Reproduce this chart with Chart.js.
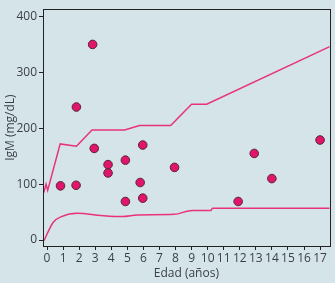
<!DOCTYPE html>
<html>
<head>
<meta charset="utf-8">
<script src="https://cdn.jsdelivr.net/npm/chart.js@4"></script>
<style>
  html, body { margin: 0; padding: 0; background: #d4e4e9; }
  canvas { display: block; }
</style>
</head>
<body>
<canvas id="igmChart" width="335" height="283"></canvas>
<script>
// datos
var edades = [0.84, 1.81, 1.83, 2.84, 2.94, 3.8, 3.8, 4.88, 4.88, 5.8, 5.96, 5.96, 7.94, 11.9, 12.9, 14.0, 17.0];
var igm = [97, 98, 238, 350, 164, 135, 120, 143, 69, 103, 75, 170, 130, 69, 155, 110, 179];

// limite superior
var supEdad = [-0.2, -0.06, 0.04, 0.82, 1.83, 2.8, 4.83, 5.76, 7.7, 9.0, 9.94, 17.6];
var supIgm = [85, 100, 89, 172, 168, 197, 197, 205, 205, 243, 243, 346];

// limite inferior
var infEdad = [-0.19, 0.39, 0.9, 1.89, 3.37, 4.7, 5.64, 7.92, 9.05, 10.2, 10.3, 17.6];
var infIgm = [-1, 32, 42, 48, 44, 42, 45, 46, 53, 53, 57, 57];

var xTicks = [0, 1, 2, 3, 4, 5, 6, 7, 8, 9, 10, 11, 12, 13, 14, 15, 16, 17];
var yTicks = [0, 100, 200, 300, 400];

function pares(xs, ys) {
    return xs.map(function(x, i) { return { x: x, y: ys[i] }; });
}

var marco = {
    id: 'marco',
    afterDatasetsDraw: function(chart) {
        var a = chart.chartArea, ctx = chart.ctx;
        ctx.save();
        ctx.strokeStyle = '#222';
        ctx.lineWidth = 1;
        ctx.strokeRect(Math.round(a.left) + 0.5, Math.round(a.top) + 0.5,
            Math.round(a.right - a.left), Math.round(a.bottom - a.top));
        ctx.restore();
    }
};

var rosa = '#e8327c';
var texto = '#3a3f48';
var fuente = { family: 'Open Sans', size: 12 };

document.addEventListener('DOMContentLoaded', function() {
    var ctx = document.getElementById('igmChart').getContext('2d');
    new Chart(ctx, {
        type: 'scatter',
        data: {
            datasets: [{
                data: pares(supEdad, supIgm),
                showLine: true,
                borderColor: rosa,
                borderWidth: 1.5,
                pointRadius: 0,
                fill: false,
                order: 2
            }, {
                data: pares(infEdad, infIgm),
                showLine: true,
                borderColor: rosa,
                borderWidth: 1.5,
                pointRadius: 0,
                cubicInterpolationMode: 'monotone',
                fill: false,
                order: 2
            }, {
                data: pares(edades, igm),
                backgroundColor: '#e0156c',
                borderColor: '#5a2435',
                borderWidth: 1,
                pointRadius: 4.3,
                order: 1
            }]
        },
        options: {
            responsive: false,
            animation: false,
            layout: { padding: { left: 0, right: 3, top: 5, bottom: 0 } },
            plugins: { legend: { display: false }, tooltip: { enabled: false } },
            scales: {
                x: {
                    type: 'linear',
                    min: -0.25,
                    max: 17.6,
                    afterBuildTicks: function(s) { s.ticks = xTicks.map(function(v) { return { value: v }; }); },
                    afterFit: function(s) { s.height = 37; },
                    grid: { drawOnChartArea: false, drawTicks: true, tickLength: 4, color: '#222' },
                    border: { display: true, color: '#222' },
                    ticks: { autoSkip: false, maxRotation: 0, padding: 1, color: texto, font: fuente },
                    title: { display: true, text: 'Edad (años)', color: texto, font: fuente, padding: { top: 2, bottom: 2 } }
                },
                y: {
                    min: -10.6,
                    max: 413,
                    afterBuildTicks: function(s) { s.ticks = yTicks.map(function(v) { return { value: v }; }); },
                    afterFit: function(s) { s.width = 43; },
                    grid: { drawOnChartArea: false, drawTicks: true, tickLength: 4, color: '#222' },
                    border: { display: true, color: '#222' },
                    ticks: { padding: 2, color: texto, font: fuente },
                    title: { display: true, text: 'IgM (mg/dL)', color: texto, font: fuente, padding: { top: 3, bottom: 2 } }
                }
            }
        },
        plugins: [marco]
    });
});
</script>
</body>
</html>
